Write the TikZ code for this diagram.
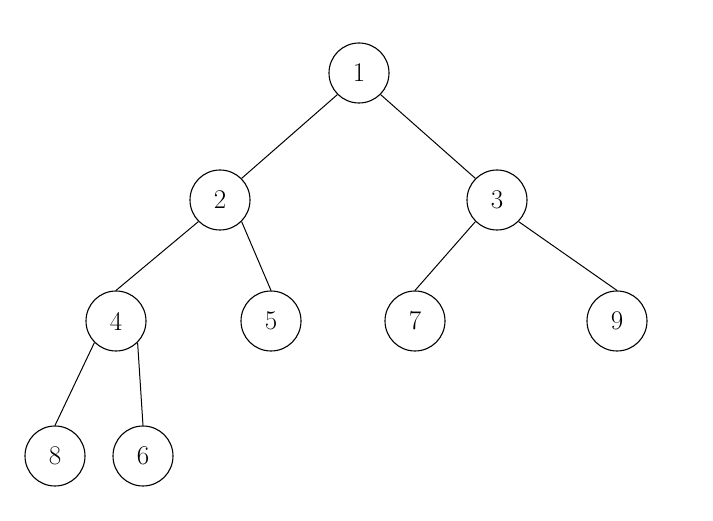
\documentclass[tikz,border=0pt]{standalone}
\begin{document}
\begin{tikzpicture}[x=1pt,y=-1pt,
  vert/.style={circle,draw,line width=1.1pt,minimum size=60pt,inner sep=0pt,font=\fontsize{27}{30}\selectfont},
  edge/.style={line width=1pt}]
\useasboundingbox (0,0) rectangle (713,521);
\node[vert] (n1) at (359,73) {1};
\node[vert] (n2) at (220,200) {2};
\node[vert] (n3) at (497,200) {3};
\node[vert] (n4) at (116,321) {4};
\node[vert] (n5) at (271,321) {5};
\node[vert] (n7) at (415,321) {7};
\node[vert] (n9) at (617,321) {9};
\node[vert] (n8) at (55,456) {8};
\node[vert] (n6) at (143,456) {6};
\draw[edge] (n1.south west) -- (n2.north east);
\draw[edge] (n1.south east) -- (n3.north west);
\draw[edge] (n2.south west) -- (n4.north);
\draw[edge] (n2.south east) -- (n5.north);
\draw[edge] (n3.south west) -- (n7.north);
\draw[edge] (n3.south east) -- (n9.north);
\draw[edge] (n4.south west) -- (n8.north);
\draw[edge] (n4.south east) -- (n6.north);
\end{tikzpicture}
\end{document}
